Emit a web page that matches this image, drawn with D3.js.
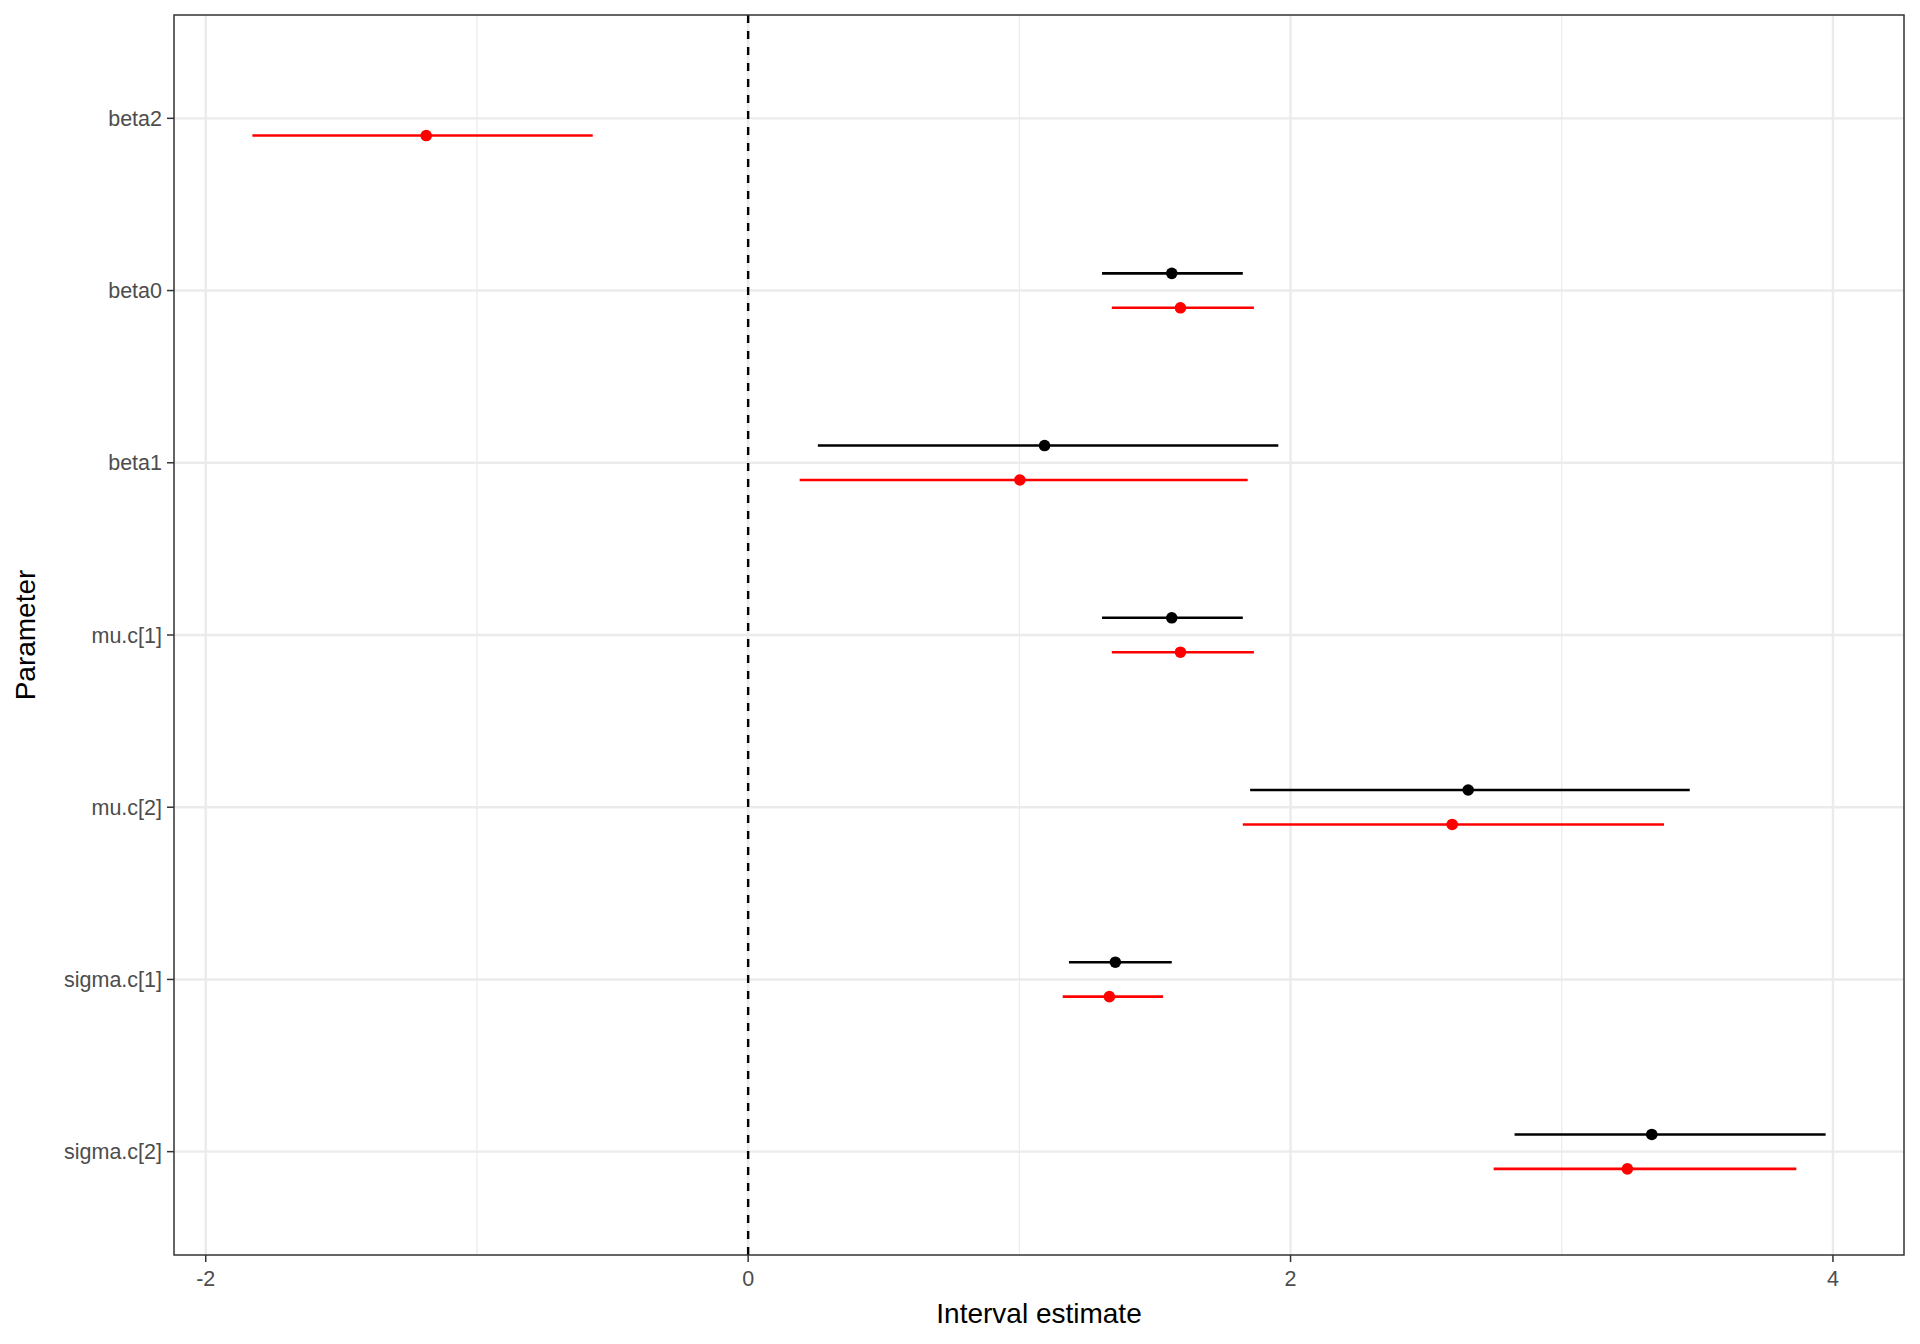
<!DOCTYPE html>
<html><head><meta charset="utf-8">
<script src="https://cdn.jsdelivr.net/npm/d3@7"></script>
<style>body{margin:0;background:#fff}svg{font-family:"Liberation Sans",Arial,sans-serif}</style>
</head><body><svg id="c" width="1920" height="1344"></svg>
<script>
const params = ["beta2","beta0","beta1","mu.c[1]","mu.c[2]","sigma.c[1]","sigma.c[2]"];
// black series (null = absent)
const blackLo  = [null, 1.305, 0.257, 1.305, 1.851, 1.183, 2.826];
const blackMid = [null, 1.562, 1.093, 1.562, 2.655, 1.354, 3.332];
const blackHi  = [null, 1.824, 1.955, 1.824, 3.472, 1.562, 3.973];
// red series
const redLo  = [-1.828, 1.341, 0.190, 1.341, 1.824, 1.160, 2.749];
const redMid = [-1.187, 1.594, 1.002, 1.594, 2.596, 1.332, 3.242];
const redHi  = [-0.573, 1.865, 1.842, 1.865, 3.377, 1.530, 3.865];
const xTicks = [-2, 0, 2, 4];

const L=174, R=1904, T=15, B=1255;
const svg = d3.select("#c");
const x = d3.scaleLinear().domain([-2.117, 4.262]).range([L, R]);
const yIdx = d3.scaleLinear().domain([-0.6, 6.6]).range([T, B]);
const g = svg.append("g");
const minor = [-1, 1, 3];
g.selectAll(".mg").data(minor).enter().append("line")
  .attr("x1",d=>x(d)).attr("x2",d=>x(d)).attr("y1",T).attr("y2",B)
  .attr("stroke","#ebebeb").attr("stroke-width",1.2);
g.selectAll(".gx").data(xTicks).enter().append("line")
  .attr("x1",d=>x(d)).attr("x2",d=>x(d)).attr("y1",T).attr("y2",B)
  .attr("stroke","#ebebeb").attr("stroke-width",2.4);
g.selectAll(".gy").data(params).enter().append("line")
  .attr("x1",L).attr("x2",R).attr("y1",(d,i)=>yIdx(i)).attr("y2",(d,i)=>yIdx(i))
  .attr("stroke","#ebebeb").attr("stroke-width",2.4);
g.append("line").attr("x1",x(0)).attr("x2",x(0)).attr("y1",T).attr("y2",B)
  .attr("stroke","#000").attr("stroke-width",2.4).attr("stroke-dasharray","8,8");
const off = 0.1;
function series(lo, mid, hi, color, dy){
  params.forEach((p,i)=>{
    if(lo[i]==null) return;
    const yy = yIdx(i+dy);
    g.append("line").attr("x1",x(lo[i])).attr("x2",x(hi[i])).attr("y1",yy).attr("y2",yy)
      .attr("stroke",color).attr("stroke-width",2.6);
    g.append("circle").attr("cx",x(mid[i])).attr("cy",yy).attr("r",5.8).attr("fill",color);
  });
}
series(blackLo, blackMid, blackHi, "#000", -off);
series(redLo, redMid, redHi, "#ff0000", off);
svg.append("rect").attr("x",L).attr("y",T).attr("width",R-L).attr("height",B-T)
  .attr("fill","none").attr("stroke","#333").attr("stroke-width",1.5);
xTicks.forEach(t=>{
  svg.append("line").attr("x1",x(t)).attr("x2",x(t)).attr("y1",B).attr("y2",B+7).attr("stroke","#333").attr("stroke-width",1.5);
  svg.append("text").attr("x",x(t)).attr("y",B+31).attr("text-anchor","middle")
    .attr("font-size",21.5).attr("fill","#4d4d4d").text(t);
});
params.forEach((p,i)=>{
  svg.append("line").attr("x1",L-7).attr("x2",L).attr("y1",yIdx(i)).attr("y2",yIdx(i)).attr("stroke","#333").attr("stroke-width",1.5);
  svg.append("text").attr("x",L-12).attr("y",yIdx(i)+7.5).attr("text-anchor","end")
    .attr("font-size",21.5).attr("fill","#4d4d4d").text(p);
});
svg.append("text").attr("x",(L+R)/2).attr("y",1323).attr("text-anchor","middle").attr("font-size",28).text("Interval estimate");
svg.append("text").attr("transform",`translate(35,${(T+B)/2}) rotate(-90)`).attr("text-anchor","middle").attr("font-size",28).text("Parameter");
</script></body></html>
